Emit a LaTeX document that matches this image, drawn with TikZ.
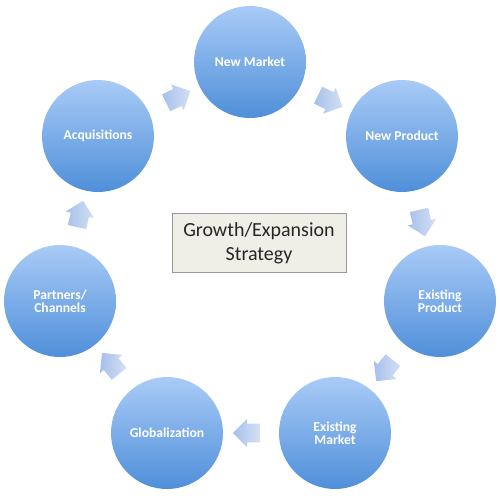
\documentclass[tikz,border=0pt]{standalone}
\usepackage{fontspec}
\setmainfont{Carlito}
\usetikzlibrary{shapes.arrows}

\definecolor{bubbletop}{HTML}{A9CBF7}
\definecolor{bubblebot}{HTML}{4F8FD9}
\definecolor{arrowlight}{HTML}{D3E0F4}
\definecolor{arrowdark}{HTML}{A6C0EA}
\definecolor{boxfill}{HTML}{EFEEE7}

\tikzset{
    bubble/.style={circle, minimum size=56pt, inner sep=0pt, top color=bubbletop,
        bottom color=bubblebot, text=white, align=center,
        font=\fontsize{6.8}{6.6}\selectfont\bfseries},
    blockarrow/.style={single arrow, single arrow head extend=2.5pt, minimum height=13.5pt,
        inner xsep=0pt, inner ysep=4.5pt, left color=arrowdark, right color=arrowlight},
    stratbox/.style={draw=gray!80, fill=boxfill, minimum width=87pt, minimum height=29.5pt,
        align=center, text=black!85, font=\fontsize{10}{12}\selectfont}
}

\begin{document}
\begin{tikzpicture}[x=0.5pt,y=-0.5pt]
    \useasboundingbox (0,0) rectangle (500,500);
    % the seven growth routes
    \node[bubble] (newmkt) at (250,62) {New Market};
    \node[bubble] (newprod) at (402,136) {New Product};
    \node[bubble] (exprod) at (440,301) {Existing\\Product};
    \node[bubble] (exmkt) at (335,433) {Existing\\Market};
    \node[bubble] (global) at (167,433) {Globalization};
    \node[bubble] (partners) at (60,301) {Partners/\\Channels};
    \node[bubble] (acq) at (98,136) {Acquisitions};
    % centre
    \node[stratbox] (strategy) at (259,243) {Growth/Expansion\\Strategy};
    % block arrows between neighbours
    \foreach \a/\b in {acq/newmkt, newmkt/newprod, newprod/exprod, exprod/exmkt,
                       exmkt/global, global/partners, partners/acq}{
        \path (\a) -- node[blockarrow, sloped, allow upside down] (arr-\a) {} (\b);
    }
\end{tikzpicture}
\end{document}
